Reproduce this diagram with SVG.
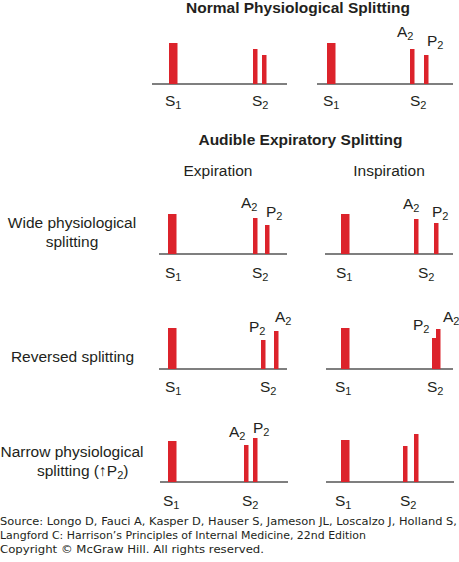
<svg xmlns="http://www.w3.org/2000/svg" width="459" height="562" viewBox="0 0 459 562">
<style>
text{font-family:"Liberation Sans",Arial,sans-serif;font-size:15.5px;fill:#231f20}
.b{font-weight:bold}
.m{text-anchor:middle}
.sub{font-size:11px}
.bar{fill:#dc232b}
.ax{stroke:#555;stroke-width:1.5;fill:none}
.src{font-family:"DejaVu Sans",Verdana,sans-serif;font-size:10.5px}
</style>
<rect width="459" height="562" fill="#fff"/>

<text class="b m" x="298" y="13">Normal Physiological Splitting</text>

<g id="normal-exp">
<line class="ax" x1="152" y1="84" x2="287" y2="84"/>
<rect class="bar" x="169" y="43" width="8.5" height="41"/>
<rect class="bar" x="253" y="49" width="4.5" height="35"/>
<rect class="bar" x="262" y="55" width="4.5" height="29"/>
<text x="165" y="106">S<tspan class="sub" dy="3">1</tspan></text>
<text x="252" y="106">S<tspan class="sub" dy="3">2</tspan></text>
</g>
<g id="normal-insp">
<line class="ax" x1="317" y1="84" x2="453" y2="84"/>
<rect class="bar" x="327" y="43" width="8.5" height="41"/>
<rect class="bar" x="410" y="49" width="4.5" height="35"/>
<rect class="bar" x="424" y="55" width="4.5" height="29"/>
<text x="397" y="37">A<tspan class="sub" dy="3">2</tspan></text>
<text x="427" y="46">P<tspan class="sub" dy="3">2</tspan></text>
<text x="323" y="106">S<tspan class="sub" dy="3">1</tspan></text>
<text x="410" y="106">S<tspan class="sub" dy="3">2</tspan></text>
</g>

<text class="b m" x="300.5" y="145">Audible Expiratory Splitting</text>
<text class="m" x="218" y="176">Expiration</text>
<text class="m" x="389" y="176">Inspiration</text>

<g id="wide-label">
<text class="m" x="72" y="228">Wide physiological</text>
<text class="m" x="72" y="247">splitting</text>
</g>
<g id="wide-exp">
<line class="ax" x1="159" y1="254" x2="287" y2="254"/>
<rect class="bar" x="168" y="214" width="8.5" height="40"/>
<rect class="bar" x="253" y="218" width="4.5" height="36"/>
<rect class="bar" x="265" y="225" width="4.5" height="29"/>
<text x="241" y="208">A<tspan class="sub" dy="3">2</tspan></text>
<text x="266" y="217">P<tspan class="sub" dy="3">2</tspan></text>
<text x="165" y="278">S<tspan class="sub" dy="3">1</tspan></text>
<text x="252" y="278">S<tspan class="sub" dy="3">2</tspan></text>
</g>
<g id="wide-insp">
<line class="ax" x1="325" y1="254" x2="453" y2="254"/>
<rect class="bar" x="341" y="214" width="8.5" height="40"/>
<rect class="bar" x="414" y="219" width="4.5" height="35"/>
<rect class="bar" x="434" y="223" width="4.5" height="31"/>
<text x="403" y="209">A<tspan class="sub" dy="3">2</tspan></text>
<text x="432" y="217">P<tspan class="sub" dy="3">2</tspan></text>
<text x="336" y="278">S<tspan class="sub" dy="3">1</tspan></text>
<text x="418" y="278">S<tspan class="sub" dy="3">2</tspan></text>
</g>

<g id="rev-label">
<text class="m" x="72.5" y="362">Reversed splitting</text>
</g>
<g id="rev-exp">
<line class="ax" x1="159" y1="369" x2="287" y2="369"/>
<rect class="bar" x="168" y="328" width="8.5" height="41"/>
<rect class="bar" x="261" y="340" width="4.5" height="29"/>
<rect class="bar" x="274" y="331" width="4.5" height="38"/>
<text x="249" y="332">P<tspan class="sub" dy="3">2</tspan></text>
<text x="275" y="322">A<tspan class="sub" dy="3">2</tspan></text>
<text x="165" y="392">S<tspan class="sub" dy="3">1</tspan></text>
<text x="260" y="392">S<tspan class="sub" dy="3">2</tspan></text>
</g>
<g id="rev-insp">
<line class="ax" x1="326" y1="369" x2="453" y2="369"/>
<rect class="bar" x="341" y="328" width="8.5" height="41"/>
<rect class="bar" x="432" y="338" width="4.5" height="31"/>
<rect class="bar" x="436" y="329" width="4.5" height="40"/>
<text x="413" y="330">P<tspan class="sub" dy="3">2</tspan></text>
<text x="443" y="322">A<tspan class="sub" dy="3">2</tspan></text>
<text x="335" y="392">S<tspan class="sub" dy="3">1</tspan></text>
<text x="427" y="392">S<tspan class="sub" dy="3">2</tspan></text>
</g>

<g id="narrow-label">
<text class="m" x="72" y="457">Narrow physiological</text>
<text x="37" y="476">splitting (↑P<tspan class="sub" dy="3">2</tspan><tspan dy="-3">)</tspan></text>
</g>
<g id="narrow-exp">
<line class="ax" x1="160" y1="482" x2="288" y2="482"/>
<rect class="bar" x="168" y="441" width="8.5" height="41"/>
<rect class="bar" x="244" y="445" width="4.5" height="37"/>
<rect class="bar" x="253" y="438" width="4.5" height="44"/>
<text x="229" y="437">A<tspan class="sub" dy="3">2</tspan></text>
<text x="253" y="433">P<tspan class="sub" dy="3">2</tspan></text>
<text x="163" y="506">S<tspan class="sub" dy="3">1</tspan></text>
<text x="242" y="506">S<tspan class="sub" dy="3">2</tspan></text>
</g>
<g id="narrow-insp">
<line class="ax" x1="326" y1="482" x2="454" y2="482"/>
<rect class="bar" x="341" y="440" width="8.5" height="42"/>
<rect class="bar" x="403" y="446" width="4.5" height="36"/>
<rect class="bar" x="414" y="434" width="4.5" height="48"/>
<text x="335" y="506">S<tspan class="sub" dy="3">1</tspan></text>
<text x="400" y="506">S<tspan class="sub" dy="3">2</tspan></text>
</g>

<g id="source">
<text class="src" x="0" y="525" textLength="457" lengthAdjust="spacingAndGlyphs">Source: Longo D, Fauci A, Kasper D, Hauser S, Jameson JL, Loscalzo J, Holland S,</text>
<text class="src" x="0" y="539" textLength="366" lengthAdjust="spacingAndGlyphs">Langford C: Harrison’s Principles of Internal Medicine, 22nd Edition</text>
<text class="src" x="0" y="553" textLength="264" lengthAdjust="spacingAndGlyphs">Copyright © McGraw Hill. All rights reserved.</text>
</g>
</svg>
